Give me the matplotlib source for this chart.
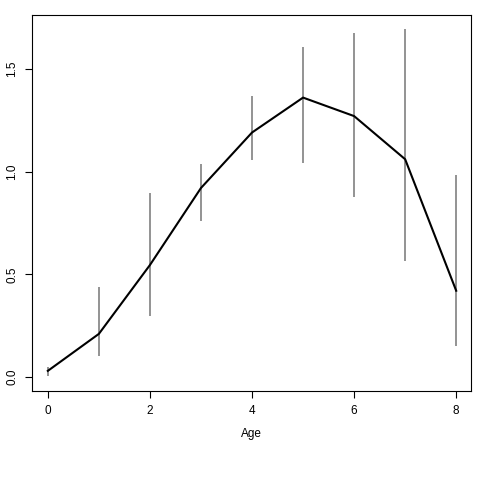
import matplotlib
matplotlib.use("Agg")
import matplotlib.pyplot as plt

age = [0, 1, 2, 3, 4, 5, 6, 7, 8]
mean = [0.03, 0.21, 0.545, 0.92, 1.19, 1.36, 1.27, 1.06, 0.42]
lower = [0.005, 0.10, 0.297, 0.76, 1.056, 1.041, 0.876, 0.564, 0.151]
upper = [0.05, 0.44, 0.895, 1.036, 1.367, 1.606, 1.674, 1.693, 0.983]
xticks = [0, 2, 4, 6, 8]
yticks = [0.0, 0.5, 1.0, 1.5]
ytick_labels = ["0.0", "0.5", "1.0", "1.5"]

plt.rcParams['font.family'] = ['Liberation Sans', 'DejaVu Sans']
fig = plt.figure(figsize=(4.8, 4.8), dpi=100)
ax = fig.add_axes([32/480, 89/480, 439/480, 376/480])

ax.vlines(age, lower, upper, colors='#808080', linewidth=1.2)
ax.plot(age, mean, color='black', linewidth=1.5)

ax.set_xlim(-0.31, 8.29)
ax.set_ylim(-0.068, 1.762)
ax.set_xticks(xticks)
ax.set_xticklabels([str(t) for t in xticks])
ax.set_yticks(yticks)
ax.set_yticklabels(ytick_labels, rotation=90, va='center')
ax.tick_params(axis='both', labelsize=8.5, length=5, width=0.8, direction='out', pad=5)
ax.set_xlabel('Age', fontsize=8.5, labelpad=8)
for s in ax.spines.values():
    s.set_linewidth(0.8)

fig.savefig('out.png', dpi=100)
